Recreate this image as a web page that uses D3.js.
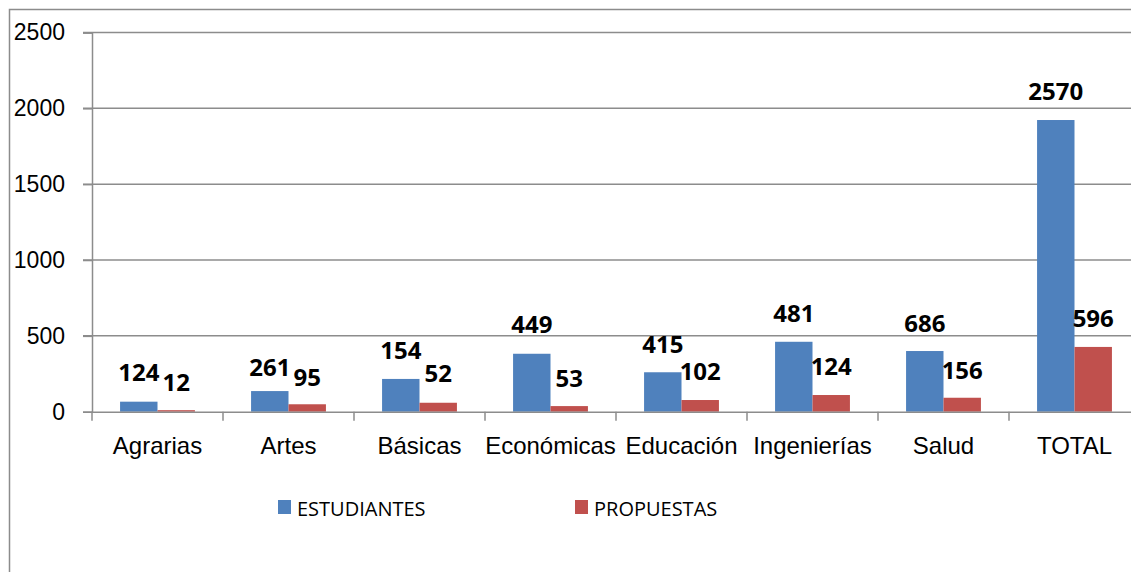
<!DOCTYPE html>
<html>
<head>
<meta charset="utf-8">
<script src="https://cdn.jsdelivr.net/npm/d3@7"></script>
<style>
  html, body { margin: 0; padding: 0; background: #fff; }
  svg { display: block; font-family: "Open Sans", "Noto Sans", sans-serif; }
</style>
</head>
<body>
<div id="chart"></div>
<script>
// categorías y series (alturas de barra)
const categories = ["Agrarias", "Artes", "Básicas", "Económicas", "Educación", "Ingenierías", "Salud", "TOTAL"];
const seriesNames = ["ESTUDIANTES", "PROPUESTAS"];
const estudiantes = [66, 136, 216, 382, 260, 461, 400, 1923];
const propuestas = [10, 49, 59, 37, 77, 110, 92, 427];
// etiquetas escritas sobre las barras y la altura (en unidades del eje) donde están puestas
const estLabels = [124, 261, 154, 449, 415, 481, 686, 2570];
const propLabels = [12, 95, 52, 53, 102, 124, 156, 596];
const estLabelAt = [202, 237, 347, 517, 389, 593, 527, 2055];
const propLabelAt = [135, 169, 194, 165, 209, 242, 216, 560];
const yTicks = [0, 500, 1000, 1500, 2000, 2500];

const W = 1131, H = 572;
const COLORS = ["#4F81BD", "#C0504D"];
const GRID = "#8c8c8c";

const svg = d3.select("#chart").append("svg").attr("width", W).attr("height", H);

// marco del gráfico
svg.append("path")
  .attr("d", `M9.5,${H} V9.5 H${W}`)
  .attr("fill", "none").attr("stroke", GRID).attr("stroke-width", 1.5);

const x = d3.scaleBand().domain(categories).range([92, 1140]);
const y = d3.scaleLinear().domain([0, 2500]).range([411.7, 32.5]);
const gap = x.bandwidth() * 1.5 / 3.5 / 2;
const xs = d3.scaleBand().domain(seriesNames).range([gap, x.bandwidth() - gap]);

// líneas de división
svg.append("g").selectAll("line").data(yTicks.slice(1)).join("line")
  .attr("x1", 83).attr("x2", W)
  .attr("y1", d => y(d)).attr("y2", d => y(d))
  .attr("stroke", GRID).attr("stroke-width", 1.5);

// eje Y
const yAxis = svg.append("g").attr("transform", "translate(92,0)")
  .call(d3.axisLeft(y).tickValues(yTicks).tickFormat(d3.format("d")).tickSize(9));
yAxis.select(".domain").attr("stroke", GRID).attr("stroke-width", 1.5);
yAxis.selectAll(".tick line").attr("stroke", GRID).attr("stroke-width", 1.5);
yAxis.selectAll(".tick text").attr("font-size", 23).attr("fill", "#000")
  .attr("x", -27).attr("text-anchor", "end");

// barras
const rows = categories.map((c, i) => ({ c, vals: [estudiantes[i], propuestas[i]] }));
svg.append("g").selectAll("g").data(rows).join("g")
  .attr("transform", d => `translate(${x(d.c)},0)`)
  .selectAll("rect").data(d => d.vals.map((v, j) => ({ v, s: seriesNames[j], j })))
  .join("rect")
  .attr("x", d => xs(d.s)).attr("width", xs.bandwidth())
  .attr("y", d => y(d.v)).attr("height", d => y(0) - y(d.v))
  .attr("fill", d => COLORS[d.j]);

// eje X
const xAxis = svg.append("g").attr("transform", `translate(0,${y(0)})`)
  .call(d3.axisBottom(x).tickSize(0).tickPadding(25));
xAxis.select(".domain").attr("stroke", GRID).attr("stroke-width", 1.5);
xAxis.selectAll(".tick text").attr("font-size", 24).attr("fill", "#000");
svg.append("g").selectAll("line").data(categories).join("line")
  .attr("x1", d => x(d)).attr("x2", d => x(d))
  .attr("y1", y(0)).attr("y2", y(0) + 9)
  .attr("stroke", GRID).attr("stroke-width", 1.5);

// etiquetas de datos
const labels = [];
categories.forEach((c, i) => {
  labels.push({ c, s: seriesNames[0], t: estLabels[i], at: estLabelAt[i] });
  labels.push({ c, s: seriesNames[1], t: propLabels[i], at: propLabelAt[i] });
});
svg.append("g").selectAll("text").data(labels).join("text")
  .attr("x", d => x(d.c) + xs(d.s) + xs.bandwidth() / 2)
  .attr("y", d => y(d.at))
  .attr("text-anchor", "middle")
  .attr("font-size", 24).attr("font-weight", "bold").attr("fill", "#000")
  .text(d => d.t);

// leyenda
const legendX = [278, 575];
const lg = svg.append("g").selectAll("g").data(seriesNames).join("g")
  .attr("transform", (d, i) => `translate(${legendX[i]},500)`);
lg.append("rect").attr("width", 13).attr("height", 14).attr("fill", (d, i) => COLORS[i]);
lg.append("text").attr("x", 19).attr("y", 15.5).attr("font-size", 20).attr("fill", "#000").text(d => d);
</script>
</body>
</html>
